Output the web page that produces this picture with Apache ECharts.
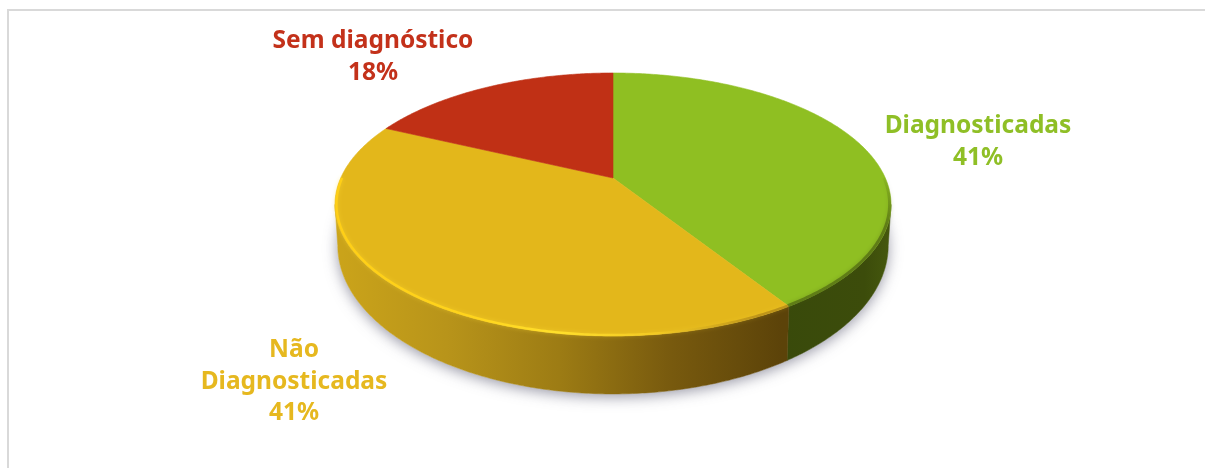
<!DOCTYPE html>
<html>
<head>
<meta charset="utf-8">
<title>Diagnóstico</title>
<style>
  html, body { margin: 0; padding: 0; background: #ffffff; }
  #chart { width: 1205px; height: 468px; }
</style>
<script src="https://cdn.jsdelivr.net/npm/echarts@6/dist/echarts.min.js"></script>
</head>
<body>
<div id="chart"></div>
<script>
// Shares of the three groups, clockwise from twelve o'clock
const categories = ['Diagnosticadas', 'Não\nDiagnosticadas', 'Sem diagnóstico'];
const shares = [41, 41, 18];
const faceColors = ['#8fbf22', '#e3b71b', '#c03015'];
const labelColors = ['#8fbf26', '#e6b81f', '#c3311a'];
const labelCentres = [[978, 142], [294, 382], [373, 57]];

// Disc seen in perspective: a unit circle mapped by a projective transform
const disc = { cx: 613, cy: 178, radius: 272.3, tilt: 0.2015, lift: -90.3 };
const wall = { shrink: 0.99, base: 24, growth: 0.129, farY: 73 };

const total = shares.reduce((a, b) => a + b, 0);
// Rim angle offset at which the disc outline reaches its widest point
const silhouette = Math.asin(disc.tilt);

function rimPoint(angle, scale) {
  const u = Math.sin(angle) * scale;
  const v = Math.cos(angle) * scale;
  const w = 1 + disc.tilt * v;
  return [disc.cx + disc.radius * u / w, (disc.lift * v + disc.cy) / w];
}
function basePoint(angle) {
  const p = rimPoint(angle, 1);
  return [
    disc.cx + (p[0] - disc.cx) * wall.shrink,
    p[1] + wall.base + (p[1] - wall.farY) * wall.growth
  ];
}
function arc(from, to, fn) {
  const steps = Math.max(2, Math.ceil(Math.abs(to - from) / 0.01));
  const pts = [];
  for (let i = 0; i <= steps; i++) pts.push(fn(from + (to - from) * i / steps));
  return pts;
}
function sliceAngles(index) {
  let sum = 0;
  for (let i = 0; i < index; i++) sum += shares[i];
  return [sum / total * 2 * Math.PI, (sum + shares[index]) / total * 2 * Math.PI];
}
function gradient(x0, y0, x1, y1, stops) {
  return {
    type: 'linear', global: true, x: x0, y: y0, x2: x1, y2: y1,
    colorStops: stops.map(s => ({ offset: s[0], color: s[1] }))
  };
}

const wallFills = [
  gradient(782, 0, 892, 0, [[0, '#394a0b'], [0.75, '#3c4c0b'], [1, '#46590e']]),
  gradient(335, 0, 782, 0, [[0, '#cba41a'], [0.25, '#b8941a'], [0.5, '#9d7c14'], [0.75, '#785a0e'], [1, '#5c4309']])
];
const rimStyles = [
  {
    from: Math.PI * 0.5, to: Math.PI * 2, width: 3,
    stroke: gradient(0, 172, 0, 225, [[0, 'rgba(70,90,15,0)'], [1, 'rgba(70,90,15,0.6)']]),
    shadowColor: 'rgba(70,90,15,0.45)'
  },
  {
    from: 0, to: Math.PI * 1.5, width: 2.4,
    stroke: gradient(335, 0, 782, 0, [[0, '#ffcf16'], [0.3, '#ffd41c'], [0.5, '#ffdf2c'], [0.72, 'rgba(255,215,40,0.5)'], [0.95, 'rgba(150,110,20,0.5)']]),
    shadowColor: 'rgba(255,220,50,0.5)'
  }
];

// The ground shadow under the whole disc
function renderShadow() {
  return {
    type: 'polygon',
    shape: { points: arc(0, 2 * Math.PI, basePoint) },
    style: {
      fill: '#ffffff',
      shadowBlur: 14,
      shadowOffsetY: 3,
      shadowColor: 'rgba(70,70,95,0.55)'
    }
  };
}

function renderSlice(params) {
  const i = params.dataIndex;
  const [a0, a1] = sliceAngles(i);
  const children = [];

  // Visible outer wall: the part of the slice between the two silhouette tangents
  const w0 = Math.max(a0, Math.PI / 2 + silhouette);
  const w1 = Math.min(a1, Math.PI * 1.5 - silhouette);
  if (w1 > w0 && wallFills[i]) {
    const top = arc(w0, w1, a => rimPoint(a, 1));
    const bottom = arc(w1, w0, basePoint);
    children.push({
      type: 'polygon', z2: 1,
      shape: { points: top.concat(bottom) },
      style: { fill: wallFills[i], stroke: wallFills[i], lineWidth: 0.5 }
    });
  }

  // Top face
  const face = [[disc.cx, disc.cy]].concat(arc(a0, a1, a => rimPoint(a, 1)));
  children.push({
    type: 'polygon', z2: 2,
    shape: { points: face },
    style: { fill: faceColors[i], stroke: faceColors[i], lineWidth: 0.6 }
  });

  // Bevel along the rim
  const rim = rimStyles[i];
  if (rim) {
    const b0 = Math.max(a0, rim.from);
    const b1 = Math.min(a1, rim.to);
    children.push({
      type: 'polyline', z2: 3, silent: true,
      shape: { points: arc(b0, b1, a => rimPoint(a, 0.995)) },
      style: {
        fill: null,
        stroke: rim.stroke,
        lineWidth: rim.width,
        shadowBlur: 4,
        shadowColor: rim.shadowColor
      }
    });
  }

  // Name and percentage
  children.push({
    type: 'text', z2: 4,
    style: {
      text: categories[i] + '\n' + shares[i] + '%',
      x: labelCentres[i][0],
      y: labelCentres[i][1],
      align: 'center',
      verticalAlign: 'middle',
      fill: labelColors[i],
      font: 'bold 24.5px "Noto Sans"',
      lineHeight: 31.5
    }
  });
  return { type: 'group', children };
}

const chart = echarts.init(document.getElementById('chart'), null, { renderer: 'canvas' });
chart.setOption({
  animation: false,
  backgroundColor: '#ffffff',
  graphic: [
    { type: 'line', shape: { x1: 7, y1: 10, x2: 1205, y2: 10 }, style: { stroke: '#d9d9d9', lineWidth: 2 } },
    { type: 'line', shape: { x1: 8, y1: 9, x2: 8, y2: 468 }, style: { stroke: '#d9d9d9', lineWidth: 2 } }
  ],
  series: [
    { type: 'custom', coordinateSystem: 'none', silent: true, z: 1, data: [total], renderItem: renderShadow },
    { type: 'custom', coordinateSystem: 'none', silent: true, z: 2, data: shares, renderItem: renderSlice }
  ]
});
</script>
</body>
</html>
